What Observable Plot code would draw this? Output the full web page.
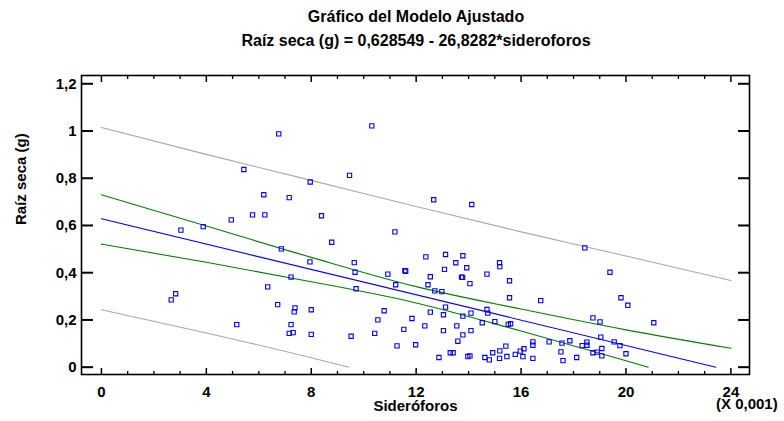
<!DOCTYPE html>
<html>
<head>
<meta charset="utf-8">
<script src="https://cdn.jsdelivr.net/npm/d3@7"></script>
<script src="https://cdn.jsdelivr.net/npm/@observablehq/plot@0.6"></script>
<style>
  body { margin: 0; background: #fff; }
  #chart { position: relative; width: 784px; height: 421px; overflow: hidden; font-family: "Liberation Sans", Arial, sans-serif; color: #000; }
  .ttl { position: absolute; left: 416px; transform: translateX(-50%); text-align: center; font-weight: bold; font-size: 16px; line-height: 18px; white-space: nowrap; }
  .unit { position: absolute; left: 716px; top: 395px; font-weight: bold; font-size: 15px; line-height: 18px; white-space: nowrap; }
</style>
</head>
<body>
<div id="chart">
  <div class="ttl" style="top:8px">Gráfico del Modelo Ajustado</div>
  <div class="ttl" style="top:32px">Raíz seca (g) = 0,628549 - 26,8282*sideroforos</div>
</div>
<script>
// Regression coefficients (siderophores in units of 0.001)
const intercept = 0.628549;
const slope = 26.8282;

// Observations: siderophores (x 0.001) and dry root weight (g)
const sideroforos = [
  6.76, 5.43, 6.19, 7.16, 4.95, 5.76, 6.23, 7.96, 3.88, 3.03,
  6.86, 7.95, 7.23, 6.34, 6.72, 7.38, 7.35, 8.00, 7.23, 7.16,
  7.31, 8.00, 5.16, 2.66, 2.83, 10.31, 9.46, 8.39, 12.67, 14.12,
  11.19, 8.78, 9.64, 9.67, 10.92, 11.57, 11.60, 11.22, 9.71, 9.52,
  10.78, 10.54, 10.42, 11.84, 11.53, 11.27, 11.98, 12.37, 13.12, 13.78,
  13.51, 13.08, 13.93, 15.18, 15.19, 12.54, 13.73, 13.77, 14.70, 12.45,
  14.05, 15.56, 12.71, 12.98, 15.56, 13.12, 12.54, 13.04, 12.33, 13.78,
  14.09, 14.70, 14.73, 14.52, 15.00, 15.51, 15.60, 13.55, 13.04, 14.09,
  13.78, 13.59, 12.87, 13.30, 13.41, 13.97, 14.05, 14.62, 14.79, 14.92,
  15.19, 15.18, 15.42, 15.46, 15.78, 15.97, 18.43, 19.39, 16.75, 19.81,
  20.07, 18.74, 19.01, 19.04, 16.11, 16.07, 16.45, 16.45, 16.45, 17.07,
  17.56, 17.52, 17.60, 17.86, 18.12, 18.33, 18.51, 18.51, 18.74, 18.90,
  19.08, 19.08, 19.55, 19.77, 20.00, 21.06
];
const raizSeca = [
  0.988, 0.837, 0.730, 0.718, 0.624, 0.645, 0.645, 0.784, 0.595, 0.580,
  0.501, 0.446, 0.381, 0.340, 0.265, 0.251, 0.234, 0.243, 0.180, 0.143,
  0.146, 0.139, 0.180, 0.285, 0.311, 1.022, 0.812, 0.641, 0.709, 0.689,
  0.573, 0.529, 0.443, 0.402, 0.394, 0.409, 0.406, 0.349, 0.332, 0.131,
  0.239, 0.200, 0.143, 0.206, 0.160, 0.090, 0.095, 0.467, 0.477, 0.472,
  0.442, 0.414, 0.421, 0.442, 0.426, 0.383, 0.381, 0.380, 0.394, 0.349,
  0.354, 0.366, 0.323, 0.320, 0.294, 0.254, 0.233, 0.222, 0.175, 0.216,
  0.229, 0.244, 0.229, 0.188, 0.193, 0.181, 0.184, 0.175, 0.155, 0.155,
  0.137, 0.110, 0.041, 0.061, 0.061, 0.045, 0.048, 0.041, 0.031, 0.061,
  0.069, 0.037, 0.089, 0.045, 0.054, 0.068, 0.505, 0.402, 0.282, 0.294,
  0.262, 0.209, 0.192, 0.127, 0.078, 0.045, 0.107, 0.093, 0.037, 0.107,
  0.102, 0.065, 0.028, 0.112, 0.041, 0.091, 0.093, 0.106, 0.061, 0.064,
  0.079, 0.048, 0.107, 0.091, 0.057, 0.188
];

// Confidence (green) and prediction (gray) limits
const bandX = [0, 4, 8, 12, 16, 20, 24];
const predUpper = [1.015, 0.901, 0.791, 0.680, 0.573, 0.471, 0.367];
const confUpper = [0.730, 0.598, 0.465, 0.341, 0.246, 0.158, 0.080];
const predLowerX = [0, 4, 8, 9.43];
const predLower = [0.243, 0.145, 0.040, 0];
const confLowerX = [0, 4, 8, 12, 16, 20, 20.85];
const confLower = [0.521, 0.444, 0.362, 0.272, 0.153, 0.027, 0];

// Axis ticks
const xMajor = [0, 4, 8, 12, 16, 20, 24];
const xMinor = [1, 2, 3, 5, 6, 7, 9, 10, 11, 13, 14, 15, 17, 18, 19, 21, 22, 23];
const yMajor = [0, 0.2, 0.4, 0.6, 0.8, 1, 1.2];

const points = sideroforos.map((x, i) => ({x, y: raizSeca[i]}));
const zip = (xs, ys) => xs.map((x, i) => ({x, y: ys[i]}));
const xEnd = intercept / slope * 1000;
const fitted = [0, xEnd].map(x => ({x, y: intercept - slope * x / 1000}));

const comma = d => String(d).replace(".", ",");
const blank = () => "";
const font = {fontSize: 15, fontWeight: "bold"};

const chart = Plot.plot({
  width: 784,
  height: 421,
  marginLeft: 81,
  marginRight: 35,
  marginTop: 75,
  marginBottom: 47,
  style: {fontFamily: "'Liberation Sans', Arial, sans-serif", color: "#000", background: "transparent"},
  x: {domain: [-0.76, 24.71], label: null},
  y: {domain: [-0.031, 1.235], label: null},
  marks: [
    Plot.line(zip(bandX, predUpper), {x: "x", y: "y", stroke: "#a8a8a8", strokeWidth: 1.1, curve: "monotone-x"}),
    Plot.line(zip(predLowerX, predLower), {x: "x", y: "y", stroke: "#a8a8a8", strokeWidth: 1.1, curve: "monotone-x"}),
    Plot.line(zip(bandX, confUpper), {x: "x", y: "y", stroke: "#008000", strokeWidth: 1.1, curve: "monotone-x"}),
    Plot.line(zip(confLowerX, confLower), {x: "x", y: "y", stroke: "#008000", strokeWidth: 1.1, curve: "monotone-x"}),
    Plot.line(fitted, {x: "x", y: "y", stroke: "#0000ff", strokeWidth: 1.1}),
    Plot.dot(points, {x: "x", y: "y", symbol: "square", r: 2.4, fill: "none", stroke: "#0000ff", strokeWidth: 1.1}),
    Plot.frame({stroke: "#000", strokeWidth: 1.6}),
    // bottom and top ticks, pointing into the frame
    Plot.axisX(xMajor, {anchor: "bottom", tickSize: -6, tickFormat: blank, strokeWidth: 1.5, label: null}),
    Plot.axisX(xMinor, {anchor: "bottom", tickSize: -3, tickFormat: blank, strokeWidth: 1.3, label: null}),
    Plot.axisX(xMajor, {anchor: "top", tickSize: -6, tickFormat: blank, strokeWidth: 1.5, label: null}),
    Plot.axisX(xMinor, {anchor: "top", tickSize: -3, tickFormat: blank, strokeWidth: 1.3, label: null}),
    // left and right ticks
    Plot.axisY(yMajor, {anchor: "left", tickSize: -12, tickFormat: blank, strokeWidth: 2, label: null}),
    Plot.axisY(yMajor, {anchor: "right", tickSize: -12, tickFormat: blank, strokeWidth: 2, label: null}),
    // tick labels
    Plot.axisX(xMajor, {anchor: "bottom", tickSize: 0, tickPadding: 12, tickFormat: d => String(d), label: null, ...font}),
    Plot.axisY(yMajor, {anchor: "left", tickSize: 0, tickPadding: 5, tickFormat: comma, label: null, ...font}),
    // axis titles
    Plot.text(["Sideróforos"], {frameAnchor: "bottom", dy: 36, text: d => d, ...font}),
    Plot.text(["Raíz seca (g)"], {frameAnchor: "left", dx: -60, rotate: -90, text: d => d, ...font})
  ]
});

const host = document.getElementById("chart");
chart.style.position = "absolute";
chart.style.left = "0";
chart.style.top = "0";
host.insertBefore(chart, host.firstChild);
const unit = document.createElement("div");
unit.className = "unit";
unit.textContent = "(X 0,001)";
host.appendChild(unit);
</script>
</body>
</html>
